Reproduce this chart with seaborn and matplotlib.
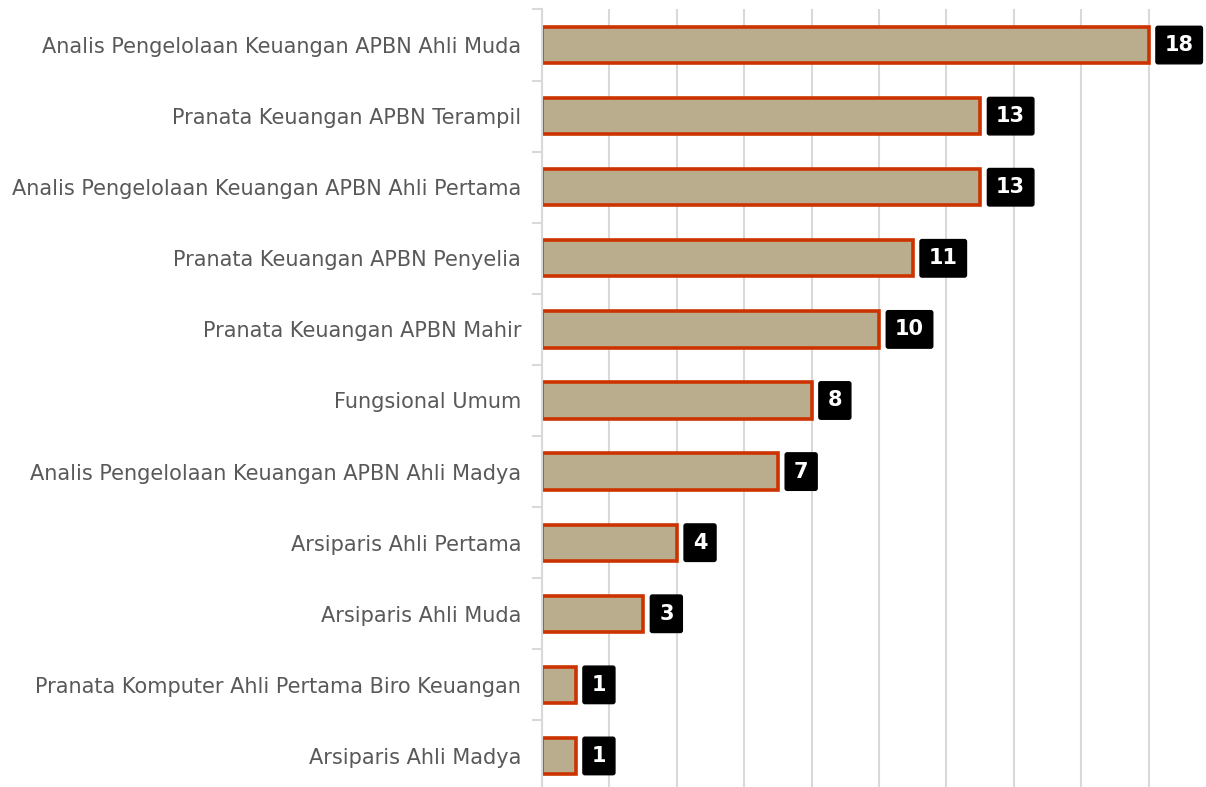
import numpy as np
import pandas as pd
import matplotlib.pyplot as plt
import seaborn as sns

# ── Data ──────────────────────────────────────────────────────────────────────
jabatan = [
    "Analis Pengelolaan Keuangan APBN Ahli Muda",
    "Pranata Keuangan APBN Terampil",
    "Analis Pengelolaan Keuangan APBN Ahli Pertama",
    "Pranata Keuangan APBN Penyelia",
    "Pranata Keuangan APBN Mahir",
    "Fungsional Umum",
    "Analis Pengelolaan Keuangan APBN Ahli Madya",
    "Arsiparis Ahli Pertama",
    "Arsiparis Ahli Muda",
    "Pranata Komputer Ahli Pertama Biro Keuangan",
    "Arsiparis Ahli Madya",
]
jumlah = [18, 13, 13, 11, 10, 8, 7, 4, 3, 1, 1]

df = pd.DataFrame({"jabatan": jabatan, "jumlah": jumlah})

# ── Style ─────────────────────────────────────────────────────────────────────
sns.set_style("white")
plt.rcParams["font.family"] = ["DejaVu Sans"]

FILL = "#b9ad8e"
EDGE = "#cc3300"
GRID = "#d9d9d9"
TEXT = "#595959"

fig = plt.figure(figsize=(12.06, 7.87), dpi=100)
ax = fig.add_axes([542 / 1206, -4.5 / 787, 1 - 542 / 1206, 782 / 787])

sns.barplot(data=df, x="jumlah", y="jabatan", orient="h", ax=ax,
            color=FILL, saturation=1, width=0.51,
            edgecolor=EDGE, linewidth=2.6)

ax.set_xlim(0, 19.7)
ax.set_ylim(len(jabatan) - 0.5, -0.5)
ax.set_xticks(np.arange(0, 20, 2))
ax.set_xticklabels([])
ax.tick_params(axis="x", length=0)
ax.grid(True, axis="x", color=GRID, linewidth=1.5)
ax.set_axisbelow(True)
ax.set_xlabel("")
ax.set_ylabel("")

for s in ["top", "right", "bottom"]:
    ax.spines[s].set_visible(False)
ax.spines["left"].set_color(GRID)
ax.spines["left"].set_linewidth(1.5)

# category labels, boundary ticks
ax.tick_params(axis="y", which="major", left=True, length=0, pad=15,
               labelsize=15, labelcolor=TEXT)
ax.set_yticks(np.arange(-0.5, len(jabatan), 1), minor=True)
ax.tick_params(axis="y", which="minor", left=True, length=7, width=1.5, color=GRID)

# value boxes
for i, v in enumerate(jumlah):
    ax.annotate(f"{v}", xy=(v, i), xytext=(11.5, 0), textcoords="offset points",
                ha="left", va="center", color="white", fontsize=15, fontweight="bold",
                bbox=dict(boxstyle="round,pad=0.42,rounding_size=0.1", fc="black", ec="black"))

fig.savefig("out.png", dpi=100)
